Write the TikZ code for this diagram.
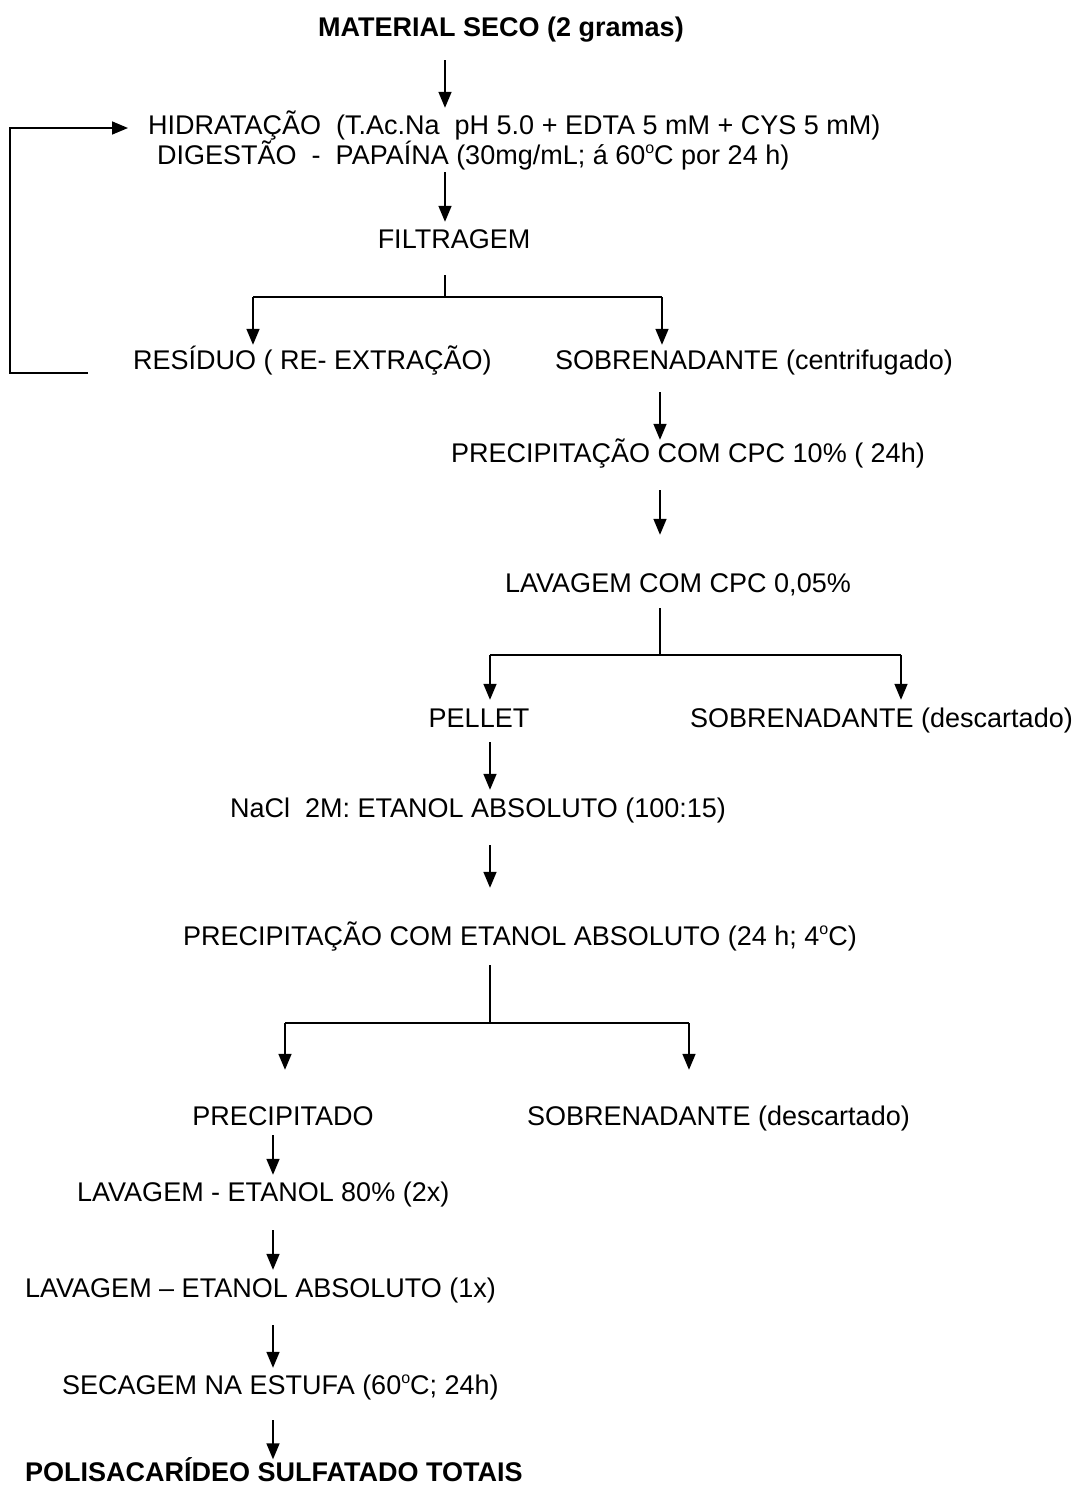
\documentclass[tikz,border=0pt]{standalone}
\usepackage{fontspec}
\setmainfont{Liberation Sans}
\usetikzlibrary{arrows.meta}

\newcommand{\grau}{\raisebox{0.75ex}{\fontsize{16}{16}\selectfont o}}

\begin{document}
\begin{tikzpicture}[x=1pt, y=-1pt,
    every node/.style={inner sep=0pt, text height=19pt, text depth=6pt, font=\fontsize{27}{30}\selectfont},
    step txt/.style={anchor=base west},
    title txt/.style={font=\fontsize{27}{30}\selectfont\bfseries},
    arr/.style={line width=1.6pt, -{Triangle[length=16pt, width=13pt]}},
    line/.style={line width=1.6pt},
    ]
  \useasboundingbox (0,0) rectangle (1074,1486);

  % columns of the arrows
  \coordinate (c1) at (445,0);
  \coordinate (c2) at (660,0);
  \coordinate (c3) at (490,0);
  \coordinate (c4) at (273,0);
  \coordinate (b1l) at (253,0);
  \coordinate (b1r) at (662,0);
  \coordinate (b2l) at (490,0);
  \coordinate (b2r) at (901,0);
  \coordinate (b3l) at (285,0);
  \coordinate (b3r) at (689,0);

  % steps
  \node[title txt, anchor=base] (title) at (501,36.5) {MATERIAL SECO (2 gramas)};
  \node[step txt] (hidr) at (148,134.5) {HIDRATAÇÃO \ (T.Ac.Na \ pH 5.0 + EDTA 5 mM + CYS 5 mM)};
  \node[step txt] (dig) at (157,164.5) {DIGESTÃO \ - \ PAPAÍNA (30mg/mL; á 60\grau C por 24 h)};
  \node[anchor=base] (filt) at (454,248.5) {FILTRAGEM};
  \node[step txt] (resid) at (133,369.5) {RESÍDUO ( RE- EXTRAÇÃO)};
  \node[step txt] (sobre1) at (555,369.5) {SOBRENADANTE (centrifugado)};
  \node[step txt] (prec1) at (451,462.5) {PRECIPITAÇÃO COM CPC 10\% ( 24h)};
  \node[step txt] (lav1) at (505,592.5) {LAVAGEM COM CPC 0,05\%};
  \node[anchor=base] (pellet) at (479,727.5) {PELLET};
  \node[step txt] (sobre2) at (690,727.5) {SOBRENADANTE (descartado)};
  \node[step txt] (nacl) at (230,817.5) {NaCl \ 2M: ETANOL ABSOLUTO (100:15)};
  \node[step txt] (prec2) at (183,945.5) {PRECIPITAÇÃO COM ETANOL ABSOLUTO (24 h; 4\grau C)};
  \node[anchor=base] (precip) at (283,1125.5) {PRECIPITADO};
  \node[step txt] (sobre3) at (527,1125.5) {SOBRENADANTE (descartado)};
  \node[step txt] (lav2) at (77,1201.5) {LAVAGEM - ETANOL 80\% (2x)};
  \node[step txt] (lav3) at (25,1297.5) {LAVAGEM – ETANOL ABSOLUTO (1x)};
  \node[step txt] (sec) at (62,1394.5) {SECAGEM NA ESTUFA (60\grau C; 24h)};
  \node[title txt, step txt, text depth=0pt] (final) at (25,1481) {POLISACARÍDEO SULFATADO TOTAIS};

  % junctions
  \coordinate (j1) at (445,297);
  \coordinate (j2) at (660,655);
  \coordinate (j3) at (490,1023);
  \coordinate (loopend) at (88,373);
  \coordinate (loopx) at (10,0);

  % connectors
  \draw[arr, shorten <=17.5pt, shorten >=7.5pt] (title.south -| c1) -- (hidr.north -| c1);
  \draw[arr, shorten <=1.5pt, shorten >=7.5pt] (dig.south -| c1) -- (filt.north -| c1);
  \draw[line, shorten <=20.5pt] (filt.south -| c1) -- (j1);
  \draw[line] (j1 -| b1l) -- (j1 -| b1r);
  \draw[arr, shorten >=5.5pt] (j1 -| b1l) -- (resid.north -| b1l);
  \draw[arr, shorten >=5.5pt] (j1 -| b1r) -- (sobre1.north -| b1r);
  \draw[arr, shorten >=20pt] (loopend) -- (loopend -| loopx) -- (loopx |- hidr.west) -- (hidr.west);
  \draw[arr, shorten <=16.5pt, shorten >=3.5pt] (sobre1.south -| c2) -- (prec1.north -| c2);
  \draw[arr, shorten <=21.5pt, shorten >=38.5pt] (prec1.south -| c2) -- (lav1.north -| c2);
  \draw[line, shorten <=9.5pt] (lav1.south -| c2) -- (j2);
  \draw[line] (j2 -| b2l) -- (j2 -| b2r);
  \draw[arr, shorten >=8.5pt] (j2 -| b2l) -- (pellet.north -| b2l);
  \draw[arr, shorten >=8.5pt] (j2 -| b2r) -- (sobre2.north -| b2r);
  \draw[arr, shorten <=8.5pt, shorten >=8.5pt] (pellet.south -| c3) -- (nacl.north -| c3);
  \draw[arr, shorten <=21.5pt, shorten >=38.5pt] (nacl.south -| c3) -- (prec2.north -| c3);
  \draw[line, shorten <=13.5pt] (prec2.south -| c3) -- (j3);
  \draw[line] (j3 -| b3l) -- (j3 -| b3r);
  \draw[arr, shorten >=36.5pt] (j3 -| b3l) -- (precip.north -| b3l);
  \draw[arr, shorten >=36.5pt] (j3 -| b3r) -- (sobre3.north -| b3r);
  \draw[arr, shorten <=3.5pt, shorten >=7.5pt] (precip.south -| c4) -- (lav2.north -| c4);
  \draw[arr, shorten <=22.5pt, shorten >=8.5pt] (lav2.south -| c4) -- (lav3.north -| c4);
  \draw[arr, shorten <=21.5pt, shorten >=7.5pt] (lav3.south -| c4) -- (sec.north -| c4);
  \draw[arr, shorten <=19.5pt, shorten >=2.5pt] (sec.south -| c4) -- (final.north -| c4);

\end{tikzpicture}
\end{document}
